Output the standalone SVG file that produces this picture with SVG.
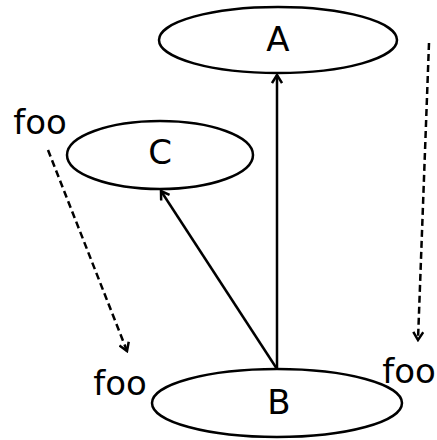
<svg xmlns="http://www.w3.org/2000/svg" width="437" height="440" viewBox="0 0 437 440">
<style>
.node{fill:#fff;stroke:#000;stroke-width:2.5}
.lbl{font-family:"DejaVu Sans",sans-serif;font-size:34px;fill:#000}
.edge{fill:none;stroke:#000;stroke-width:2.5}
.dash{stroke-dasharray:7,4}
</style>
<defs>
<marker id="arr" viewBox="0 0 12 12" refX="10" refY="6" markerWidth="12" markerHeight="12" markerUnits="userSpaceOnUse" orient="auto">
<path d="M2,1 L10,6 L2,11" fill="none" stroke="#000" stroke-width="2.5"/>
</marker>
</defs>
<rect width="437" height="440" fill="#fff"/>
<g id="connectors">
<line class="edge" x1="277" y1="369" x2="277" y2="75" marker-end="url(#arr)"/>
<line class="edge" x1="277" y1="369" x2="161" y2="191" marker-end="url(#arr)"/>
<line class="edge dash" x1="48" y1="150" x2="127" y2="351" marker-end="url(#arr)"/>
<line class="edge dash" x1="429" y1="43" x2="418" y2="340" marker-end="url(#arr)"/>
</g>
<g id="A"><ellipse class="node" cx="278" cy="40" rx="119" ry="33"/><text class="lbl" x="278" y="51" text-anchor="middle">A</text></g>
<g id="C"><ellipse class="node" cx="160" cy="155" rx="93" ry="34"/><text class="lbl" x="160" y="164" text-anchor="middle">C</text></g>
<g id="B"><ellipse class="node" cx="277" cy="403" rx="125" ry="34"/><text class="lbl" x="279" y="414" text-anchor="middle">B</text></g>
<g id="labels">
<text class="lbl" x="40" y="134" text-anchor="middle">foo</text>
<text class="lbl" x="120" y="395" text-anchor="middle">foo</text>
<text class="lbl" x="409" y="383" text-anchor="middle">foo</text>
</g>
</svg>
